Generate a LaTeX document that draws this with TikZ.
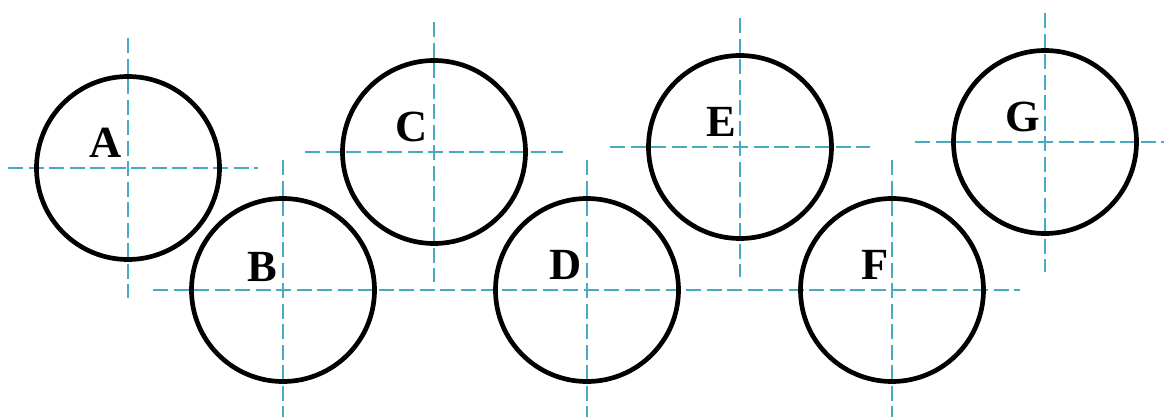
\documentclass[tikz,border=0pt]{standalone}
\usepackage{fontspec}
\setmainfont{Liberation Serif}
\usetikzlibrary{calc}
\definecolor{axiscol}{RGB}{70,170,192}

\begin{document}
\begin{tikzpicture}[x=0.03cm, y=-0.03cm,
  ring/.style={circle, draw, line width=4pt, minimum size=5.49cm, inner sep=0pt},
  axis/.style={axiscol, line width=1pt, dash pattern=on 13pt off 4.5pt},
  lbl/.style={font=\fontsize{38}{40}\selectfont\bfseries, inner sep=0pt}]
\useasboundingbox (0,0) rectangle (1164,417);
% -- centres --
\coordinate (cA) at (128,168);
\coordinate (cB) at (283,290);
\coordinate (cC) at (434,152);
\coordinate (cD) at (587,290);
\coordinate (cE) at (740,147);
\coordinate (cF) at (892,290);
\coordinate (cG) at (1045,142);
% -- centre lines, top row --
\draw[axis] ($(cA)+(-120,0)$) -- ($(cA)+(130,0)$);
\draw[axis] ($(cA)+(0,-130)$) -- ($(cA)+(0,130)$);
\draw[axis] ($(cC)+(-129,0)$) -- ($(cC)+(129,0)$);
\draw[axis] ($(cC)+(0,-130)$) -- ($(cC)+(0,130)$);
\draw[axis] ($(cE)+(-130,0)$) -- ($(cE)+(130,0)$);
\draw[axis] ($(cE)+(0,-129)$) -- ($(cE)+(0,130)$);
\draw[axis] ($(cG)+(-130,0)$) -- ($(cG)+(130,0)$);
\draw[axis] ($(cG)+(0,-129)$) -- ($(cG)+(0,130)$);
% -- centre lines, bottom row --
\draw[axis] ($(cB)+(-130,0)$) -- ($(cF)+(128,0)$);
\draw[axis] ($(cB)+(0,-130)$) -- ($(cB)+(0,130)$);
\draw[axis] ($(cD)+(0,-130)$) -- ($(cD)+(0,130)$);
\draw[axis] ($(cF)+(0,-130)$) -- ($(cF)+(0,130)$);
% -- circles --
\node[ring] (A) at (cA) {};
\node[ring] (B) at (cB) {};
\node[ring] (C) at (cC) {};
\node[ring] (D) at (cD) {};
\node[ring] (E) at (cE) {};
\node[ring] (F) at (cF) {};
\node[ring] (G) at (cG) {};
% -- letters --
\node[lbl] (lA) at (106,143) {A};
\node[lbl] (lB) at (262,267) {B};
\node[lbl] (lC) at (412,127) {C};
\node[lbl] (lD) at (566,265) {D};
\node[lbl] (lE) at (721,122) {E};
\node[lbl] (lF) at (875,265) {F};
\node[lbl] (lG) at (1023,117) {G};
\end{tikzpicture}
\end{document}
